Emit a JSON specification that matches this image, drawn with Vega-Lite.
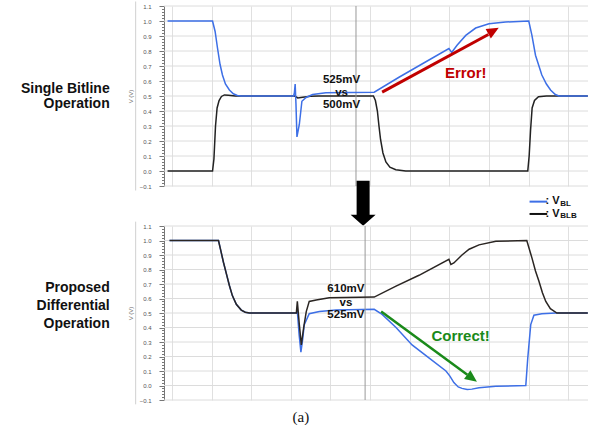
{
  "$schema": "https://vega.github.io/schema/vega-lite/v6.json",
  "background": "white",
  "autosize": {"type": "pad"},
  "padding": {"left": 21, "top": 1, "right": 0, "bottom": 0},
  "bounds": "flush",
  "spacing": 40,
  "config": {
    "view": {"stroke": null},
    "font": "Liberation Sans",
    "axisY": {
      "labelFontSize": 6,
      "labelColor": "#555555",
      "labelPadding": 8,
      "labelOverlap": false,
      "labelBound": false,
      "labelFlush": false,
      "tickColor": "#777777",
      "domainColor": "#777777",
      "titleFontSize": 6,
      "titleFontWeight": "normal",
      "titleColor": "#666666",
      "titlePadding": 6
    },
    "axisX": {
      "labels": false,
      "ticks": false,
      "domain": false,
      "values": [0,1,2,3,4,5,6,7,8,9,10,11,12,13,14,15,16,17,18,19,20,21],
      "gridColor": "#e0e0e0"
    }
  },
  "datasets": {
    "levels": [
      {"v":-0.1},{"v":0.0},{"v":0.1},{"v":0.2},{"v":0.3},{"v":0.4},{"v":0.5},{"v":0.6},{"v":0.7},{"v":0.8},{"v":0.9},{"v":1.0},{"v":1.1}
    ],
    "top_bl": [
      {"t":-0.22,"v":1.0},{"t":2.05,"v":1.0},{"t":2.18,"v":0.93},{"t":2.30,"v":0.82},{"t":2.43,"v":0.71},{"t":2.55,"v":0.64},{"t":2.70,"v":0.58},{"t":2.90,"v":0.54},{"t":3.10,"v":0.515},{"t":3.30,"v":0.503},{"t":3.50,"v":0.5},
      {"t":6.14,"v":0.5},{"t":6.18,"v":0.52},{"t":6.22,"v":0.58},{"t":6.26,"v":0.45},{"t":6.31,"v":0.227},{"t":6.43,"v":0.31},{"t":6.56,"v":0.465},{"t":6.77,"v":0.49},{"t":7.10,"v":0.51},{"t":7.77,"v":0.522},{"t":10.21,"v":0.525},
      {"t":11.46,"v":0.625},{"t":12.71,"v":0.72},{"t":13.98,"v":0.816},{"t":14.12,"v":0.79},{"t":14.39,"v":0.838},{"t":14.83,"v":0.904},{"t":15.33,"v":0.953},{"t":16.0,"v":0.981},{"t":16.84,"v":0.993},{"t":18.01,"v":1.0},
      {"t":18.17,"v":0.904},{"t":18.35,"v":0.772},{"t":18.67,"v":0.64},{"t":18.90,"v":0.58},{"t":19.11,"v":0.54},{"t":19.35,"v":0.51},{"t":19.53,"v":0.5},{"t":20.99,"v":0.5}
    ],
    "top_blb": [
      {"t":-0.22,"v":0.0},{"t":2.05,"v":0.0},{"t":2.12,"v":0.08},{"t":2.2,"v":0.3},{"t":2.28,"v":0.42},{"t":2.38,"v":0.47},{"t":2.5,"v":0.497},{"t":2.65,"v":0.507},{"t":2.85,"v":0.505},{"t":3.2,"v":0.5},
      {"t":6.2,"v":0.5},{"t":6.35,"v":0.487},{"t":6.6,"v":0.492},{"t":7.0,"v":0.498},{"t":7.4,"v":0.5},{"t":10.17,"v":0.5},
      {"t":10.27,"v":0.47},{"t":10.37,"v":0.40},{"t":10.45,"v":0.30},{"t":10.53,"v":0.21},{"t":10.65,"v":0.12},{"t":10.80,"v":0.06},{"t":11.0,"v":0.025},{"t":11.3,"v":0.008},{"t":11.8,"v":0.0},
      {"t":17.96,"v":0.0},{"t":18.03,"v":0.1},{"t":18.1,"v":0.27},{"t":18.18,"v":0.42},{"t":18.3,"v":0.47},{"t":18.5,"v":0.495},{"t":18.9,"v":0.5},{"t":20.99,"v":0.5}
    ],
    "bot_blb": [
      {"t":-0.12,"v":1.0},{"t":2.35,"v":1.0},{"t":2.45,"v":0.94},{"t":2.6,"v":0.85},{"t":2.75,"v":0.77},{"t":2.9,"v":0.69},{"t":3.05,"v":0.62},{"t":3.25,"v":0.56},{"t":3.5,"v":0.52},{"t":3.7,"v":0.505},{"t":3.91,"v":0.5},
      {"t":6.28,"v":0.5},{"t":6.33,"v":0.58},{"t":6.43,"v":0.42},{"t":6.53,"v":0.28},{"t":6.65,"v":0.4},{"t":6.78,"v":0.51},{"t":6.93,"v":0.58},{"t":7.28,"v":0.59},{"t":7.94,"v":0.605},{"t":10.21,"v":0.61},
      {"t":11.31,"v":0.685},{"t":12.47,"v":0.76},{"t":13.98,"v":0.87},{"t":14.08,"v":0.835},{"t":14.23,"v":0.845},{"t":14.64,"v":0.9},{"t":15.0,"v":0.94},{"t":15.5,"v":0.97},{"t":16.35,"v":0.995},{"t":17.91,"v":1.0},
      {"t":18.17,"v":0.88},{"t":18.35,"v":0.79},{"t":18.52,"v":0.72},{"t":18.7,"v":0.64},{"t":18.87,"v":0.58},{"t":19.1,"v":0.53},{"t":19.43,"v":0.5},{"t":20.99,"v":0.5}
    ],
    "bot_bl": [
      {"t":-0.12,"v":1.0},{"t":2.35,"v":1.0},{"t":2.45,"v":0.94},{"t":2.6,"v":0.85},{"t":2.75,"v":0.77},{"t":2.9,"v":0.69},{"t":3.05,"v":0.62},{"t":3.25,"v":0.56},{"t":3.5,"v":0.52},{"t":3.7,"v":0.505},{"t":3.91,"v":0.5},
      {"t":6.28,"v":0.5},{"t":6.33,"v":0.51},{"t":6.42,"v":0.35},{"t":6.51,"v":0.23},{"t":6.6,"v":0.32},{"t":6.68,"v":0.42},{"t":6.93,"v":0.495},{"t":7.44,"v":0.51},{"t":8.29,"v":0.52},{"t":10.21,"v":0.525},
      {"t":10.61,"v":0.49},{"t":11.31,"v":0.40},{"t":12.12,"v":0.28},{"t":12.97,"v":0.19},{"t":13.83,"v":0.10},{"t":14.03,"v":0.065},{"t":14.23,"v":0.02},{"t":14.45,"v":-0.01},{"t":14.64,"v":-0.02},{"t":14.9,"v":-0.028},{"t":15.14,"v":-0.025},{"t":15.5,"v":-0.015},{"t":16.35,"v":-0.005},{"t":17.86,"v":0.0},
      {"t":17.96,"v":0.19},{"t":18.11,"v":0.42},{"t":18.27,"v":0.485},{"t":18.67,"v":0.495},{"t":19.38,"v":0.5},{"t":20.99,"v":0.5}
    ]
  },
  "vconcat": [
    {
      "width": 424,
      "height": 180,
      "layer": [
        {
          "data": {"name": "levels"},
          "mark": {"type": "rule", "color": "#dcdcdc", "strokeWidth": 1},
          "encoding": {
            "y": {"field": "v", "type": "quantitative", "scale": {"domain": [-0.1, 1.1], "nice": false, "zero": false}, "axis": {
              "title": "V (V)", "grid": false, "tickCount": 60,
              "labelExpr": "abs(datum.value*10 - round(datum.value*10)) < 0.000001 ? format(datum.value, '.1f') : ''",
              "tickSize": {"condition": {"test": "abs(datum.value*10 - round(datum.value*10)) < 0.000001", "value": 5}, "value": 2.5}
            }}
          }
        },
        {
          "data": {"name": "top_blb"},
          "mark": {"type": "line", "color": "#222222", "strokeWidth": 1.5},
          "encoding": {
            "x": {"field": "t", "type": "quantitative", "scale": {"domain": [-0.4, 21], "nice": false, "zero": false}, "axis": {"title": null, "grid": true}},
            "y": {"field": "v", "type": "quantitative"}
          }
        },
        {
          "data": {"values": [{"t": -1.83, "v": -0.13, "v2": 1.13}]},
          "mark": {"type": "rule", "color": "#d0d0d0", "strokeWidth": 1},
          "encoding": {"x": {"field": "t", "type": "quantitative"}, "y": {"field": "v", "type": "quantitative"}, "y2": {"field": "v2"}}
        },
        {
          "data": {"values": [{"t": 9.29}]},
          "mark": {"type": "rule", "color": "#999999", "strokeWidth": 1},
          "encoding": {"x": {"field": "t", "type": "quantitative"}}
        },
        {
          "data": {"name": "top_bl"},
          "mark": {"type": "line", "color": "#3d6fe6", "strokeWidth": 1.5},
          "encoding": {"x": {"field": "t", "type": "quantitative"}, "y": {"field": "v", "type": "quantitative"}}
        },
        {
          "data": {"values": [{"t": 8.56, "v": 0.607, "label": "525mV"}, {"t": 8.56, "v": 0.519, "label": "vs"}, {"t": 8.56, "v": 0.438, "label": "500mV"}]},
          "mark": {"type": "text", "fontWeight": "bold", "fontSize": 11.5, "align": "center", "baseline": "middle", "color": "#111111"},
          "encoding": {"x": {"field": "t", "type": "quantitative"}, "y": {"field": "v", "type": "quantitative"}, "text": {"field": "label"}}
        },
        {
          "data": {"values": [{"t": 10.61, "v": 0.526, "t2": 15.97, "v2": 0.91}]},
          "mark": {"type": "rule", "color": "#c00000", "strokeWidth": 3},
          "encoding": {"x": {"field": "t", "type": "quantitative"}, "y": {"field": "v", "type": "quantitative"}, "x2": {"field": "t2"}, "y2": {"field": "v2"}}
        },
        {
          "data": {"values": [{"t": 16.23, "v": 0.935}]},
          "mark": {"type": "point", "shape": "M 0 -1 L 0.9 1 L -0.9 1 Z", "size": 144, "angle": 61, "filled": true, "color": "#c00000", "opacity": 1, "strokeWidth": 0},
          "encoding": {"x": {"field": "t", "type": "quantitative"}, "y": {"field": "v", "type": "quantitative"}}
        },
        {
          "data": {"values": [{"t": 14.83, "v": 0.651, "label": "Error!"}]},
          "mark": {"type": "text", "fontWeight": "bold", "fontSize": 15, "align": "center", "baseline": "middle", "color": "#c00000"},
          "encoding": {"x": {"field": "t", "type": "quantitative"}, "y": {"field": "v", "type": "quantitative"}, "text": {"field": "label"}}
        },
        {
          "data": {"values": [{"t": -3.14, "v": 0.55, "label": "Single Bitline"}, {"t": -3.14, "v": 0.445, "label": "Operation"}]},
          "mark": {"type": "text", "fontWeight": "bold", "fontSize": 14, "align": "right", "baseline": "middle", "color": "#111111"},
          "encoding": {"x": {"field": "t", "type": "quantitative"}, "y": {"field": "v", "type": "quantitative"}, "text": {"field": "label"}}
        },
        {
          "data": {"values": [{"t": 9.65, "v": -0.215}]},
          "mark": {"type": "point", "shape": "M -0.52 -1.8 L 0.52 -1.8 L 0.52 0.92 L 1 0.92 L 0 1.8 L -1 0.92 L -0.52 0.92 Z", "size": 625, "filled": true, "color": "#000000", "opacity": 1, "strokeWidth": 0},
          "encoding": {"x": {"field": "t", "type": "quantitative"}, "y": {"field": "v", "type": "quantitative"}}
        }
      ]
    },
    {
      "width": 424,
      "height": 174,
      "layer": [
        {
          "data": {"name": "levels"},
          "mark": {"type": "rule", "color": "#dcdcdc", "strokeWidth": 1},
          "encoding": {
            "y": {"field": "v", "type": "quantitative", "scale": {"domain": [-0.1, 1.1], "nice": false, "zero": false}, "axis": {
              "title": "V (V)", "grid": false, "tickCount": 60,
              "labelExpr": "abs(datum.value*10 - round(datum.value*10)) < 0.000001 ? format(datum.value, '.1f') : ''",
              "tickSize": {"condition": {"test": "abs(datum.value*10 - round(datum.value*10)) < 0.000001", "value": 5}, "value": 2.5}
            }}
          }
        },
        {
          "data": {"name": "bot_bl"},
          "mark": {"type": "line", "color": "#3d6fe6", "strokeWidth": 1.5},
          "encoding": {
            "x": {"field": "t", "type": "quantitative", "scale": {"domain": [-0.4, 21], "nice": false, "zero": false}, "axis": {"title": null, "grid": true}},
            "y": {"field": "v", "type": "quantitative"}
          }
        },
        {
          "data": {"values": [{"t": -1.83, "v": -0.13, "v2": 1.13}]},
          "mark": {"type": "rule", "color": "#d0d0d0", "strokeWidth": 1},
          "encoding": {"x": {"field": "t", "type": "quantitative"}, "y": {"field": "v", "type": "quantitative"}, "y2": {"field": "v2"}}
        },
        {
          "data": {"values": [{"t": 9.75}]},
          "mark": {"type": "rule", "color": "#999999", "strokeWidth": 1},
          "encoding": {"x": {"field": "t", "type": "quantitative"}}
        },
        {
          "data": {"name": "bot_blb"},
          "mark": {"type": "line", "color": "#2a2522", "strokeWidth": 1.5},
          "encoding": {"x": {"field": "t", "type": "quantitative"}, "y": {"field": "v", "type": "quantitative"}}
        },
        {
          "data": {"values": [{"t": 8.78, "v": 0.663, "label": "610mV"}, {"t": 8.78, "v": 0.571, "label": "vs"}, {"t": 8.78, "v": 0.485, "label": "525mV"}]},
          "mark": {"type": "text", "fontWeight": "bold", "fontSize": 11.5, "align": "center", "baseline": "middle", "color": "#111111"},
          "encoding": {"x": {"field": "t", "type": "quantitative"}, "y": {"field": "v", "type": "quantitative"}, "text": {"field": "label"}}
        },
        {
          "data": {"values": [{"t": 10.56, "v": 0.51, "t2": 14.91, "v2": 0.074}]},
          "mark": {"type": "rule", "color": "#1a8a1a", "strokeWidth": 2.5},
          "encoding": {"x": {"field": "t", "type": "quantitative"}, "y": {"field": "v", "type": "quantitative"}, "x2": {"field": "t2"}, "y2": {"field": "v2"}}
        },
        {
          "data": {"values": [{"t": 15.15, "v": 0.05}]},
          "mark": {"type": "point", "shape": "M 0 -1 L 0.9 1 L -0.9 1 Z", "size": 144, "angle": 126, "filled": true, "color": "#1a8a1a", "opacity": 1, "strokeWidth": 0},
          "encoding": {"x": {"field": "t", "type": "quantitative"}, "y": {"field": "v", "type": "quantitative"}}
        },
        {
          "data": {"values": [{"t": 14.57, "v": 0.339, "label": "Correct!"}]},
          "mark": {"type": "text", "fontWeight": "bold", "fontSize": 15, "align": "center", "baseline": "middle", "color": "#1a8a1a"},
          "encoding": {"x": {"field": "t", "type": "quantitative"}, "y": {"field": "v", "type": "quantitative"}, "text": {"field": "label"}}
        },
        {
          "data": {"values": [{"t": -3.14, "v": 0.67, "label": "Proposed"}, {"t": -3.14, "v": 0.545, "label": "Differential"}, {"t": -3.14, "v": 0.427, "label": "Operation"}]},
          "mark": {"type": "text", "fontWeight": "bold", "fontSize": 14, "align": "right", "baseline": "middle", "color": "#111111"},
          "encoding": {"x": {"field": "t", "type": "quantitative"}, "y": {"field": "v", "type": "quantitative"}, "text": {"field": "label"}}
        },
        {
          "data": {"values": [{"t": 18.05, "t2": 18.94, "v": 1.268, "series": "BL"}, {"t": 18.05, "t2": 18.94, "v": 1.183, "series": "BLB"}]},
          "mark": {"type": "rule", "strokeWidth": 2},
          "encoding": {
            "x": {"field": "t", "type": "quantitative"}, "x2": {"field": "t2"}, "y": {"field": "v", "type": "quantitative"},
            "color": {"field": "series", "type": "nominal", "scale": {"domain": ["BL", "BLB"], "range": ["#3d6fe6", "#111111"]}, "legend": null}
          }
        },
        {
          "data": {"values": [{"t": 18.86, "v": 1.272, "label": ": V"}, {"t": 18.86, "v": 1.186, "label": ": V"}]},
          "mark": {"type": "text", "fontWeight": "bold", "fontSize": 11, "align": "left", "baseline": "middle", "color": "#111111"},
          "encoding": {"x": {"field": "t", "type": "quantitative"}, "y": {"field": "v", "type": "quantitative"}, "text": {"field": "label"}}
        },
        {
          "data": {"values": [{"t": 19.6, "v": 1.254, "label": "BL"}, {"t": 19.6, "v": 1.169, "label": "BLB"}]},
          "mark": {"type": "text", "fontWeight": "bold", "fontSize": 8, "align": "left", "baseline": "middle", "color": "#111111"},
          "encoding": {"x": {"field": "t", "type": "quantitative"}, "y": {"field": "v", "type": "quantitative"}, "text": {"field": "label"}}
        },
        {
          "data": {"values": [{"t": 6.51, "v": -0.216, "label": "(a)"}]},
          "mark": {"type": "text", "font": "Liberation Serif", "fontSize": 15, "align": "center", "baseline": "middle", "color": "#111111"},
          "encoding": {"x": {"field": "t", "type": "quantitative"}, "y": {"field": "v", "type": "quantitative"}, "text": {"field": "label"}}
        }
      ]
    }
  ]
}
